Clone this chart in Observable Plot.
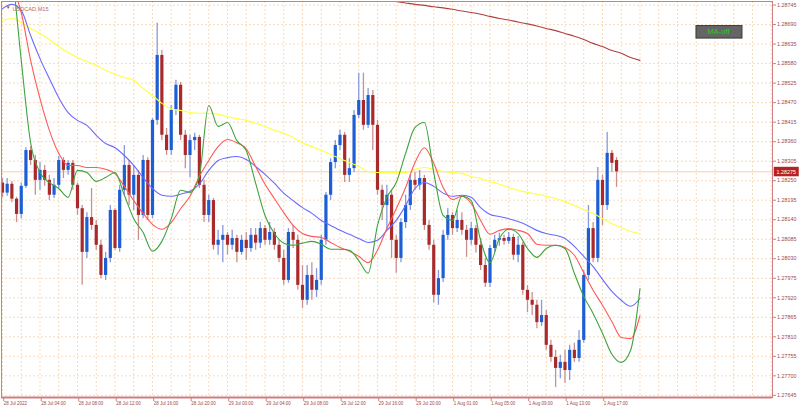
<!DOCTYPE html>
<html><head><meta charset="utf-8">
<script src="https://cdn.jsdelivr.net/npm/d3@7"></script>
<script src="https://cdn.jsdelivr.net/npm/@observablehq/plot@0.6"></script>
<style>
html,body{margin:0;padding:0;background:#fff;}
#chart svg{display:block;}
</style></head><body><div id="chart"></div>
<script>
// USDCAD, M15 candles (one candle per two M15 bars)
const openP = [1.28243,1.28215,1.28240,1.28198,1.28155,1.28234,1.28335,1.28307,1.28251,1.28279,1.28251,1.28209,1.28237,1.28307,1.28279,1.28299,1.28237,1.28171,1.28048,1.28146,1.28124,1.28068,1.27983,1.28031,1.28166,1.28059,1.28223,1.28293,1.28209,1.28265,1.28152,1.28307,1.28152,1.28420,1.28603,1.28378,1.28335,1.28448,1.28519,1.28378,1.28321,1.28363,1.28372,1.28237,1.28152,1.28194,1.28068,1.28082,1.28096,1.28068,1.28087,1.28048,1.28082,1.28059,1.28096,1.28074,1.28115,1.28082,1.28104,1.28068,1.28031,1.27969,1.28104,1.28082,1.27955,1.27913,1.27983,1.27941,1.27969,1.28082,1.28209,1.28301,1.28349,1.28378,1.28265,1.28284,1.28434,1.28476,1.28406,1.28490,1.28406,1.28223,1.28180,1.28209,1.28082,1.28031,1.28132,1.28180,1.28251,1.28237,1.28256,1.28124,1.28068,1.27927,1.27974,1.28096,1.28152,1.28115,1.28138,1.28110,1.28082,1.28115,1.28068,1.28011,1.27961,1.28059,1.28082,1.28087,1.28079,1.28090,1.28040,1.28068,1.27941,1.27913,1.27899,1.27850,1.27870,1.27786,1.27752,1.27721,1.27738,1.27715,1.27772,1.27749,1.27800,1.27983,1.28115,1.28031,1.28251,1.28180,1.28327,1.28307];
const highP = [1.28256,1.28256,1.28248,1.28203,1.28243,1.28343,1.28346,1.28321,1.28301,1.28293,1.28265,1.28256,1.28318,1.28315,1.28307,1.28307,1.28243,1.28180,1.28160,1.28228,1.28138,1.28082,1.28048,1.28180,1.28171,1.28237,1.28349,1.28307,1.28293,1.28279,1.28321,1.28315,1.28425,1.28694,1.28617,1.28397,1.28462,1.28533,1.28527,1.28392,1.28378,1.28384,1.28378,1.28251,1.28209,1.28200,1.28110,1.28124,1.28104,1.28110,1.28096,1.28096,1.28104,1.28115,1.28115,1.28132,1.28124,1.28132,1.28115,1.28082,1.28054,1.28115,1.28124,1.28096,1.28011,1.28011,1.28019,1.28002,1.28096,1.28217,1.28312,1.28363,1.28392,1.28386,1.28312,1.28448,1.28553,1.28553,1.28510,1.28504,1.28420,1.28237,1.28237,1.28223,1.28096,1.28143,1.28209,1.28265,1.28273,1.28279,1.28265,1.28138,1.28082,1.27997,1.28110,1.28171,1.28160,1.28166,1.28160,1.28124,1.28132,1.28124,1.28087,1.28031,1.28068,1.28096,1.28102,1.28096,1.28104,1.28099,1.28093,1.28076,1.27955,1.27935,1.27913,1.27913,1.27884,1.27800,1.27772,1.27758,1.27772,1.27786,1.27792,1.27828,1.27997,1.28180,1.28132,1.28287,1.28265,1.28386,1.28335,1.28315];
const lowP = [1.28203,1.28206,1.28188,1.28132,1.28143,1.28228,1.28293,1.28209,1.28223,1.28234,1.28194,1.28200,1.28228,1.28256,1.28265,1.28223,1.28152,1.27955,1.28031,1.28110,1.28054,1.27974,1.27969,1.28019,1.28054,1.28048,1.28209,1.28180,1.28166,1.28082,1.28143,1.28138,1.28143,1.28406,1.28363,1.28321,1.28321,1.28434,1.28363,1.28284,1.28259,1.28335,1.28228,1.28132,1.28132,1.28054,1.28040,1.28019,1.28040,1.28054,1.28019,1.28040,1.28025,1.28048,1.28054,1.28059,1.28068,1.28068,1.28054,1.28019,1.27955,1.27961,1.28059,1.27941,1.27890,1.27899,1.27913,1.27921,1.27955,1.28068,1.28194,1.28284,1.28335,1.28245,1.28245,1.28273,1.28425,1.28392,1.28397,1.28335,1.28209,1.28138,1.28110,1.28031,1.27989,1.28019,1.28115,1.28166,1.28223,1.28223,1.28110,1.28054,1.27905,1.27899,1.27963,1.28082,1.28096,1.28104,1.28096,1.28034,1.28068,1.28046,1.27997,1.27949,1.27949,1.28048,1.28065,1.28068,1.28071,1.28025,1.28019,1.27927,1.27878,1.27870,1.27833,1.27839,1.27772,1.27738,1.27667,1.27692,1.27679,1.27687,1.27738,1.27738,1.27792,1.27969,1.28019,1.28019,1.28124,1.28166,1.28273,1.28231];
const closeP = [1.28215,1.28240,1.28198,1.28155,1.28234,1.28335,1.28307,1.28251,1.28279,1.28251,1.28209,1.28237,1.28307,1.28279,1.28299,1.28237,1.28171,1.28048,1.28146,1.28124,1.28068,1.27983,1.28031,1.28166,1.28059,1.28223,1.28293,1.28209,1.28265,1.28152,1.28307,1.28152,1.28420,1.28603,1.28378,1.28335,1.28448,1.28519,1.28378,1.28321,1.28363,1.28372,1.28237,1.28152,1.28194,1.28068,1.28082,1.28096,1.28068,1.28087,1.28048,1.28082,1.28059,1.28096,1.28074,1.28115,1.28082,1.28104,1.28068,1.28031,1.27969,1.28104,1.28082,1.27955,1.27913,1.27983,1.27941,1.27969,1.28082,1.28209,1.28301,1.28349,1.28378,1.28265,1.28284,1.28434,1.28476,1.28406,1.28490,1.28406,1.28223,1.28180,1.28209,1.28082,1.28031,1.28132,1.28180,1.28251,1.28237,1.28256,1.28124,1.28068,1.27927,1.27974,1.28096,1.28152,1.28115,1.28138,1.28110,1.28082,1.28115,1.28068,1.28011,1.27961,1.28059,1.28082,1.28087,1.28079,1.28090,1.28040,1.28068,1.27941,1.27913,1.27899,1.27850,1.27870,1.27786,1.27752,1.27721,1.27738,1.27715,1.27772,1.27749,1.27800,1.27983,1.28115,1.28031,1.28251,1.28180,1.28327,1.28299,1.28275];

// Moving averages, sampled every second candle (indicators extend a little past the last candle)
const yellowMA = [1.28702,1.28707,1.28696,1.28679,1.28665,1.28648,1.28628,1.28611,1.28597,1.28586,1.28575,1.28561,1.28550,1.28541,1.28533,1.28510,1.28490,1.28468,1.28453,1.28448,1.28442,1.28440,1.28440,1.28437,1.28431,1.28425,1.28420,1.28412,1.28403,1.28392,1.28384,1.28372,1.28357,1.28346,1.28335,1.28324,1.28312,1.28301,1.28290,1.28276,1.28273,1.28273,1.28273,1.28273,1.28282,1.28287,1.28282,1.28276,1.28273,1.28270,1.28262,1.28256,1.28248,1.28240,1.28231,1.28223,1.28217,1.28212,1.28206,1.28200,1.28191,1.28180,1.28169,1.28158,1.28143,1.28129,1.28118,1.28107,1.28101];
const blueMA = [1.28735,1.28747,1.28730,1.28659,1.28594,1.28538,1.28484,1.28442,1.28420,1.28406,1.28378,1.28355,1.28343,1.28321,1.28293,1.28259,1.28228,1.28209,1.28206,1.28212,1.28220,1.28240,1.28279,1.28307,1.28315,1.28318,1.28310,1.28290,1.28268,1.28243,1.28215,1.28194,1.28174,1.28158,1.28138,1.28124,1.28110,1.28099,1.28087,1.28076,1.28082,1.28110,1.28138,1.28180,1.28228,1.28245,1.28234,1.28215,1.28206,1.28209,1.28203,1.28174,1.28155,1.28149,1.28143,1.28135,1.28124,1.28110,1.28101,1.28096,1.28087,1.28065,1.28037,1.28008,1.27972,1.27938,1.27913,1.27896,1.27918];
const redMA = [1.28871,1.28800,1.28724,1.28589,1.28481,1.28392,1.28327,1.28293,1.28293,1.28287,1.28287,1.28282,1.28270,1.28234,1.28194,1.28158,1.28127,1.28113,1.28132,1.28171,1.28206,1.28262,1.28307,1.28346,1.28366,1.28357,1.28340,1.28290,1.28240,1.28200,1.28160,1.28124,1.28101,1.28093,1.28090,1.28076,1.28062,1.28051,1.28037,1.28019,1.28054,1.28115,1.28171,1.28231,1.28301,1.28343,1.28299,1.28231,1.28197,1.28206,1.28186,1.28138,1.28099,1.28110,1.28115,1.28110,1.28101,1.28071,1.28068,1.28068,1.28062,1.28040,1.27991,1.27941,1.27899,1.27853,1.27808,1.27805,1.27870];
const greenMA = [1.28983,1.28843,1.28589,1.28357,1.28273,1.28245,1.28228,1.28203,1.28279,1.28273,1.28248,1.28259,1.28273,1.28209,1.28143,1.28104,1.28051,1.28079,1.28143,1.28223,1.28217,1.28265,1.28462,1.28403,1.28414,1.28363,1.28335,1.28243,1.28152,1.28101,1.28074,1.28068,1.28074,1.28079,1.28071,1.28057,1.28057,1.28054,1.28025,1.27989,1.28124,1.28203,1.28245,1.28327,1.28400,1.28414,1.28273,1.28152,1.28138,1.28206,1.28194,1.28082,1.28019,1.28087,1.28113,1.28101,1.28059,1.28034,1.28059,1.28068,1.28059,1.27989,1.27924,1.27876,1.27820,1.27761,1.27738,1.27772,1.27946];
const brownMA = [1.28761,1.28755,1.28751,1.28747,1.28744,1.28740,1.28737,1.28733,1.28728,1.28724,1.28719,1.28713,1.28707,1.28703,1.28697,1.28692,1.28686,1.28679,1.28673,1.28665,1.28657,1.28648,1.28637,1.28628,1.28617,1.28609,1.28597,1.28589];

const yTicks = [1.27645,1.27700,1.27755,1.27810,1.27865,1.27920,1.27975,1.28030,1.28085,1.28140,1.28195,1.28250,1.28305,1.28360,1.28415,1.28470,1.28525,1.28580,1.28635,1.28690,1.28745];
const xTickPos = [0,8,16,24,32,40,48,56,64,72,80,88,96,104,112,120,128];
const xTickLabels = ["28 Jul 2022","28 Jul 04:00","28 Jul 08:00","28 Jul 12:00","28 Jul 16:00","28 Jul 20:00","29 Jul 00:00","29 Jul 04:00","29 Jul 08:00","29 Jul 12:00","29 Jul 16:00","29 Jul 20:00","1 Aug 01:00","1 Aug 05:00","1 Aug 09:00","1 Aug 13:00","1 Aug 17:00"];
const symbolLabel = "USDCAD,M15";
const buttonLabel = "MA-off";
const lastPrice = 1.28275;

const candles = closeP.map((c, i) => ({k: i, open: openP[i], high: highP[i], low: lowP[i], close: c, up: c >= openP[i]}));
const maK = d3.range(0, 137, 2);
const brownK = d3.range(82, 137, 2);
const labelOf = new Map(xTickPos.map((p, i) => [p, xTickLabels[i]]));

const yDomain = [1.27639, 1.28755];
const gridC = "#f8dcbc", axisC = "#cf7f7f", textC = "#a04848";
const upBody = "#1c5ed4", upWick = "#8799dc", dnBody = "#a82a2a", dnWick = "#c99090";

const ma = (vals, ks, color, w) => Plot.line(vals, {x: (d, i) => ks[i], y: d => d, stroke: color, strokeWidth: w, curve: "monotone-x", clip: true});

const chart = Plot.plot({
  width: 800, height: 411,
  marginLeft: 1, marginTop: 1, marginRight: 28, marginBottom: 14,
  style: {fontFamily: "Liberation Sans, Arial, sans-serif", background: "#ffffff"},
  x: {domain: [-0.213, 164.27], label: null},
  y: {domain: yDomain, label: null},
  marks: [
    Plot.ruleY(yTicks, {stroke: gridC, strokeDasharray: "2,2"}),
    Plot.ruleX(d3.range(0, 165, 4), {stroke: gridC, strokeDasharray: "2,2"}),
    Plot.ruleY([lastPrice], {stroke: "#f4cfae"}),
    Plot.ruleX(candles, {filter: d => d.up, x: "k", y1: "low", y2: "high", stroke: upWick, strokeWidth: 1.3}),
    Plot.ruleX(candles, {filter: d => !d.up, x: "k", y1: "low", y2: "high", stroke: dnWick, strokeWidth: 1.3}),
    Plot.ruleX(candles, {filter: d => d.up, x: "k", y1: "open", y2: "close", stroke: upBody, strokeWidth: 3.2}),
    Plot.ruleX(candles, {filter: d => !d.up, x: "k", y1: "open", y2: "close", stroke: dnBody, strokeWidth: 3.2}),
    ma(yellowMA, maK, "#ffff3c", 1.1),
    ma(brownMA, brownK, "#b04040", 1.1),
    ma(blueMA, maK, "#6a6aff", 1.1),
    ma(redMA, maK, "#ff5a5a", 1.1),
    ma(greenMA, maK, "#3fa23f", 1.1),
    Plot.frame({stroke: axisC}),
    Plot.ruleY([yDomain[0]], {stroke: axisC, strokeWidth: 2}),
    Plot.axisY(yTicks, {anchor: "right", label: null, tickSize: 3, tickPadding: 1.5, tickFormat: d => d.toFixed(5), fontSize: 5.4, fill: textC, stroke: axisC}),
    Plot.axisX(xTickPos, {anchor: "bottom", label: null, tickSize: 4, tickPadding: 0.5, tickFormat: d => labelOf.get(d), textAnchor: "start", dx: 1.2, fontSize: 4.5, fill: textC, stroke: axisC}),
    Plot.text([lastPrice], {y: d => d, frameAnchor: "right", dx: 4, textAnchor: "start", text: d => d.toFixed(5), fill: "#ffffff", fontSize: 5.4}),
    Plot.text(["\u25BC"], {frameAnchor: "top-left", dx: 4.5, dy: 4.5, fill: "#c83030", fontSize: 4.5}),
    Plot.text([symbolLabel], {frameAnchor: "top-left", dx: 11, dy: 5.5, textAnchor: "start", fill: "#b06868", fontSize: 5.6}),
    Plot.text([buttonLabel], {frameAnchor: "top-right", dx: -43, dy: 27.5, fill: "#22cc22", fontSize: 7.5})
  ]
});
document.getElementById("chart").append(chart);

// draw a box behind a text element found by its content
function boxBehind(content, w, h, fill, stroke) {
  d3.select(chart).selectAll("text").filter(function() {
    return this.textContent === content && this.getAttribute("fill") !== null || this.textContent === content;
  }).each(function() {
    const b = this.getBBox();
    const cx = b.x + b.width / 2, cy = b.y + b.height / 2;
    const tf = this.getAttribute("transform");
    const r = d3.select(this.parentNode).insert("rect", () => this)
      .attr("x", cx - w / 2).attr("y", cy - h / 2)
      .attr("width", w).attr("height", h)
      .attr("fill", fill).attr("stroke", stroke || "none");
    if (tf) r.attr("transform", tf);
  });
}
boxBehind(buttonLabel, 46, 12.5, "#656565", "#3a3a3a");
// only the white price tag, not the axis label (axis labels differ in text anyway)
boxBehind(lastPrice.toFixed(5), 25, 9.5, "#b52222", null);
</script>
</body></html>
